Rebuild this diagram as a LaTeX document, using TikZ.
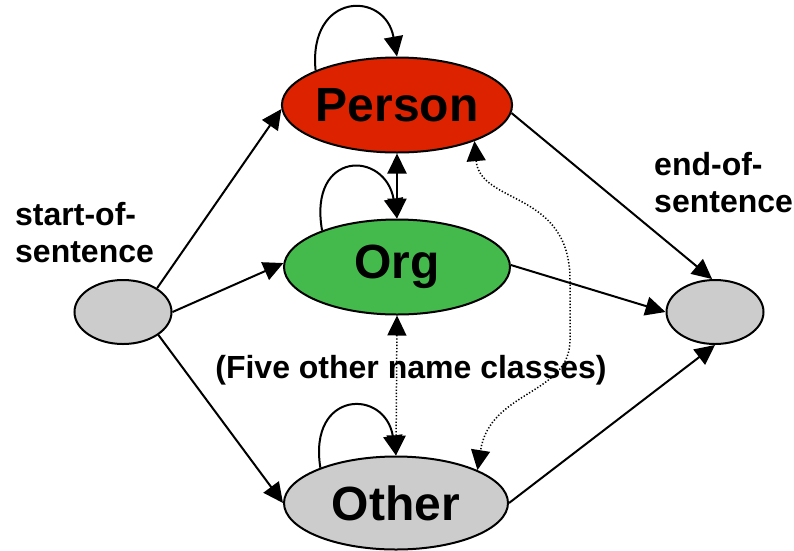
\documentclass[tikz,border=0pt]{standalone}
\usepackage{fontspec}
\setmainfont{Liberation Sans}
\usetikzlibrary{arrows.meta,shapes.geometric}
\definecolor{personred}{RGB}{221,34,0}
\definecolor{orggreen}{RGB}{68,186,76}
\definecolor{stategray}{RGB}{204,204,204}
\begin{document}
\begin{tikzpicture}[x=1pt,y=-1pt,
  state/.style={ellipse, draw=black, line width=2pt, inner sep=0pt},
  classstate/.style={state, minimum width=226pt, minimum height=95pt,
    font=\fontsize{48}{52}\selectfont\bfseries},
  boundary/.style={state, fill=stategray, minimum width=97pt, minimum height=64pt},
  edge/.style={line width=2pt, -{Triangle[length=20pt,width=19pt]}},
  bothedge/.style={line width=2pt, {Triangle[length=20pt,width=19pt]}-{Triangle[length=20pt,width=19pt]}},
  dotlink/.style={bothedge, line width=1.5pt, dash pattern=on 1.3pt off 1.9pt},
  caption/.style={font=\fontsize{32}{37}\selectfont\bfseries, inner sep=0pt, align=left}
]
\useasboundingbox (0,0) rectangle (794,550);

% states
\node[classstate, fill=personred] (person) at (397,105) {Person};
\node[classstate, fill=orggreen]  (org)    at (397,267) {Org};
\node[classstate, fill=stategray, minimum width=224pt, minimum height=93pt] (other) at (396,503) {Other};
\node[boundary] (sos) at (123,312) {};
\node[boundary] (eos) at (715,312) {};

% labels
\node[caption, anchor=north west] (soslabel) at (15,202) {start-of-\\sentence};
\node[caption, anchor=north west] (eoslabel) at (654,152) {end-of-\\sentence};
\node[caption, anchor=center] (fivelabel) at (411,370) {(Five other name classes)};

% self transitions
\draw[edge] (person.157) .. controls (308,-8) and (385,-10) .. (person.north);
\draw[edge] (org.154) .. controls (308,150) and (385,150) .. (org.north);
\draw[edge] (other.155) .. controls (308,390) and (385,388) .. (other.north);

% transitions out of start-of-sentence
\draw[edge] (sos.35) -- (person.182);
\draw[edge] (sos.east) -- (org.178);
\draw[edge] (sos.-33) -- (other.west);

% transitions into end-of-sentence
\draw[edge] (person.-4) -- (eos.95);
\draw[edge] (org.1) -- (eos.west);
\draw[edge] (other.east) -- (eos.south);

% transitions between name classes
\draw[bothedge] (person.south) -- (org.north);
\draw[dotlink] (org.south) -- (other.north);
\draw[dotlink] (person.-25) .. controls (480,205) and (570,190) .. (570,280)
  -- (570,340) .. controls (570,395) and (490,390) .. (other.22);
\end{tikzpicture}
\end{document}
